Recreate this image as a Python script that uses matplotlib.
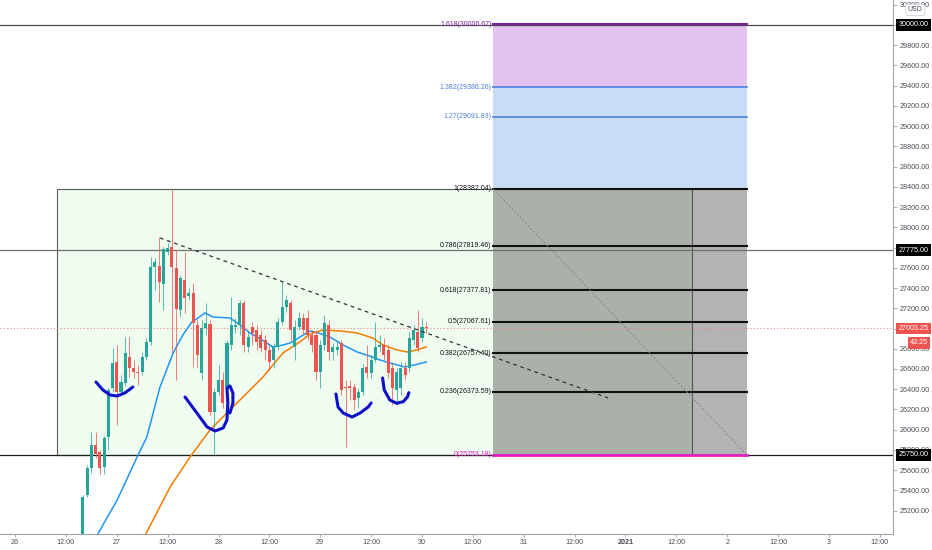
import matplotlib
matplotlib.use('Agg')
import matplotlib.pyplot as plt
import matplotlib.transforms as mtransforms
from matplotlib.patches import Rectangle
import numpy as np

plt.rcParams['font.family'] = ['Liberation Sans', 'DejaVu Sans']

# hourly candles, x = hours since Dec 26 00:00
hours = list(range(16, 98))
opens = [24910, 25355, 25621, 25849, 25780, 25631, 25928, 26412, 26669, 26373,
         26461, 26719, 26610, 26570, 26570, 26719, 26867, 27608, 27618, 27440,
         27756, 27806, 27598, 27183, 27480, 27322, 27351, 27035, 26560, 27005,
         27045, 26175, 26373, 26491, 26422, 26837, 27015, 27035, 27252, 26818,
         27015, 26985, 26936, 26887, 26788, 26689, 26818, 27065, 27213, 27252,
         26818, 27015, 27104, 27104, 26936, 26936, 26570, 26837, 27035, 26768,
         26788, 26857, 26422, 26432, 26422, 26313, 26373, 26620, 26560, 26689,
         26818, 26837, 26788, 26610, 26392, 26412, 26610, 26610, 26887, 26966,
         26906, 27015]
highs = [25355, 25651, 25977, 25977, 25799, 25938, 26412, 26808, 26837, 26541,
         26916, 26916, 26689, 26640, 26768, 26906, 27707, 27697, 27905, 27806,
         27845, 28382, 27776, 27529, 27756, 27401, 27450, 27084, 27084, 27252,
         27084, 26412, 26640, 26570, 26887, 27312, 27104, 27282, 27282, 26985,
         27065, 27035, 26985, 26936, 26837, 26857, 27104, 27460, 27331, 27282,
         27084, 27164, 27154, 27183, 26985, 26985, 26887, 27134, 27084, 26857,
         26887, 26887, 26491, 26491, 26461, 26412, 26649, 26837, 26738, 27065,
         26936, 26906, 26837, 26669, 26610, 26669, 26669, 26966, 27035, 27183,
         27104, 27065]
lows = [24860, 25335, 25572, 25720, 25562, 25562, 25799, 26373, 26046, 26343,
        26432, 26521, 26511, 26442, 26541, 26689, 26837, 27381, 27262, 27183,
        27727, 26758, 26491, 27114, 27154, 27282, 26620, 26610, 26491, 26936,
        26145, 25760, 26343, 26214, 26392, 26788, 26956, 26936, 26768, 26768,
        26837, 26788, 26768, 26689, 26590, 26610, 26788, 27035, 27164, 26887,
        26689, 26985, 26936, 26887, 26768, 26491, 26412, 26788, 26689, 26689,
        26738, 26343, 25829, 26294, 26195, 26214, 26343, 26511, 26511, 26669,
        26768, 26689, 26511, 26244, 26244, 26343, 26491, 26570, 26837, 26768,
        26867, 26956]
closes = [25335, 25621, 25849, 25760, 25621, 25918, 26392, 26659, 26373, 26471,
          26758, 26610, 26570, 26560, 26719, 26867, 27608, 27658, 27460, 27786,
          27796, 27608, 27193, 27499, 27302, 27351, 27055, 26738, 27005, 27055,
          26175, 26373, 26491, 26264, 26857, 27035, 27035, 27252, 26837, 26916,
          26956, 26867, 26808, 26788, 26669, 26818, 27065, 27213, 27282, 26985,
          27015, 27104, 26985, 26936, 26837, 26570, 26837, 27055, 26768, 26818,
          26818, 26392, 26412, 26412, 26294, 26373, 26610, 26560, 26689, 26818,
          26837, 26738, 26560, 26412, 26570, 26610, 26541, 26906, 26985, 26808,
          27015, 27003.25]

# moving averages
ma_fast_x = [19.0, 24.1, 28.8, 31.1, 34.2, 37.3, 39.6, 41.7, 43.2, 44.8, 46.7, 50.7,
             53.1, 55.4, 58.3, 60.8, 63.2, 64.9, 67.2, 69.6, 71.5, 74.3, 77.4, 80.7,
             83.7, 86.1, 88.4, 92.0, 94.3, 97.0]
ma_fast = [24930, 25305, 25730, 25928, 26422, 26758, 26936, 27065, 27104, 27154,
           27114, 27104, 27035, 26956, 26887, 26818, 26837, 26857, 26916, 26976,
           26956, 26916, 26837, 26768, 26728, 26689, 26659, 26620, 26640, 26669]
ma_slow_x = [30.0, 36.6, 41.3, 46.0, 50.7, 58.5, 63.2, 67.2, 69.6, 72.6, 76.7, 80.7,
             84.4, 86.8, 90.1, 92.5, 94.8, 97.0]
ma_slow = [24900, 25434, 25730, 25997, 26195, 26521, 26758, 26867, 26946, 26985,
           26976, 26956, 26906, 26837, 26788, 26768, 26788, 26818]

# fibonacci extension
fib_ratios = [0, 0.236, 0.382, 0.5, 0.618, 0.786, 1, 1.27, 1.382, 1.618]
fib_prices = [25753.18, 26373.59, 26757.40, 27067.61, 27377.81, 27819.46,
              28382.04, 29091.83, 29386.26, 30006.67]

# horizontal levels
levels = [30000, 27775, 25750]
last_price = 27003.25

# trend line
trend_x = [34.2, 139.9]
trend_y = [27895, 26314]

# hand drawn cups
cup1_x = [19.1, 20.75, 22.4, 24.05, 25.9, 27.8]
cup1_y = [26471, 26392, 26343, 26333, 26363, 26422]
cup2_x = [40.1, 42.9, 45.3, 47.2, 49.1, 50.0, 50.2, 50.0, 50.7, 51.4, 51.4, 50.7]
cup2_y = [26323, 26165, 26027, 25987, 26017, 26096, 26264, 26412, 26432, 26363, 26264, 26165]
cup3_x = [75.7, 76.2, 77.4, 79.5, 81.4, 83.3, 84.0]
cup3_y = [26353, 26224, 26165, 26125, 26165, 26224, 26264]
cup4_x = [86.7, 87.1, 88.4, 90.0, 91.6, 92.6, 92.9]
cup4_y = [26511, 26392, 26294, 26261, 26277, 26326, 26366]

xtick_hours = list(range(0, 205, 12))
xtick_labels = ['26', '12:00', '27', '12:00', '28', '12:00', '29', '12:00', '30',
                '12:00', '31', '12:00', '2021', '12:00', '2', '12:00', '3', '12:00']

fig = plt.figure(figsize=(9.32, 5.5), dpi=100)
ax = fig.add_axes([0, 16 / 550, 893 / 932, 534 / 550])
ax.set_xlim(-3.54, 207.1)
ax.set_ylim(24969, 30247)

# green range box
ax.add_patch(Rectangle((9.9, 25750), 159.7 - 9.9, fib_prices[6] - 25750,
                       facecolor='#effcef', edgecolor='#5a5a5a', lw=0.8, zorder=1))

# fib zones
fx0, fx1 = 112.75, 172.6
ax.fill_between([fx0, fx1], fib_prices[0], fib_prices[6], color='#4a4a4a', alpha=0.42, lw=0, zorder=2)
ax.fill_between([fx0, fx1], fib_prices[6], fib_prices[8], color='#c9dcf6', lw=0, zorder=2)
ax.fill_between([fx0, fx1], fib_prices[8], fib_prices[9], color='#e3c2ef', lw=0, zorder=2)

for lv, col in zip(levels, ['#4a4a4a', '#707070', '#1e1e1e']):
    ax.axhline(lv, color=col, lw=0.9, zorder=3)
ax.axhline(last_price, color='#f08a8a', ls=(0, (1, 2)), lw=0.8, zorder=3)

for r, p in zip(fib_ratios, fib_prices):
    if r == 0:
        col, lw = '#e41ec6', 2.0
    elif r in (1.27, 1.382):
        col, lw = '#4a80dc', 1.2
    elif r == 1.618:
        col, lw = '#7b22a4', 1.5
    else:
        col, lw = '#111111', 1.5
    ax.plot([fx0, fx1], [p, p], color=col, lw=lw, zorder=4)
    lab_col = '#111111' if col == '#111111' else col
    ax.text(fx0 - 0.35, p, f'{r:g}({p:.2f})', ha='right', va='center', fontsize=5,
            color=lab_col, zorder=8)

ax.plot([fx0, fx1], [fib_prices[6], fib_prices[0]], color='#8a8a8a', ls=(0, (2, 2)), lw=0.7, zorder=4)

# moving averages
ax.plot(ma_fast_x, ma_fast, color='#2196f3', lw=1.1, zorder=5)
ax.plot(ma_slow_x, ma_slow, color='#f57c00', lw=1.1, zorder=5)

# candles
o = np.array(opens, float)
c = np.array(closes, float)
up = c >= o
cols = np.where(up, '#26a69a', '#ef5350')
ax.vlines(hours, lows, highs, colors=cols, lw=0.7, alpha=0.75, zorder=6)
body = np.maximum(np.abs(c - o), 10)
ax.bar(hours, body, bottom=np.minimum(o, c), width=0.72, color=cols, lw=0, zorder=7)

# trend line
ax.plot(trend_x, trend_y, color='#333333', ls=(0, (3, 3)), lw=0.9, zorder=8)

# cups
for cx, cy in [(cup1_x, cup1_y), (cup2_x, cup2_y), (cup3_x, cup3_y), (cup4_x, cup4_y)]:
    ax.plot(cx, cy, color='#1010c8', lw=2.2, solid_capstyle='round',
            solid_joinstyle='round', zorder=9)

# axes styling
for s in ['top', 'left']:
    ax.spines[s].set_visible(False)
for s in ['right', 'bottom']:
    ax.spines[s].set_color('#a0a3ab')
    ax.spines[s].set_linewidth(0.8)
ax.yaxis.tick_right()
ax.set_yticks(np.arange(25200, 30201, 200))
ax.set_yticklabels([f'{v:.2f}' for v in np.arange(25200, 30201, 200)])
ax.tick_params(axis='y', labelsize=5.2, labelcolor='#4a4d57', color='#a0a3ab',
               length=3, width=0.6, pad=2)
ax.set_xticks(xtick_hours)
ax.set_xticklabels(xtick_labels)
ax.tick_params(axis='x', labelsize=5.2, labelcolor='#4a4d57', color='#a0a3ab',
               length=2, width=0.6, pad=1.5)
ax.get_xticklabels()[12].set_fontweight('bold')

# price tags on axis
trans = mtransforms.blended_transform_factory(ax.transAxes, ax.transData)
tags = [(30000, '30000.00', 'black'), (27775, '27775.00', 'black'),
        (25750, '25750.00', 'black'), (last_price, '27003.25', '#ef5350')]
for p, txt, fc in tags:
    ax.text(1.006, p, txt, transform=trans, ha='left', va='center', fontsize=5.2,
            color='white', zorder=10, clip_on=False,
            bbox=dict(boxstyle='square,pad=0.3', fc=fc, ec='none'))
ax.text(1.019, 26857, '43:25', transform=trans, ha='left', va='center', fontsize=5.2,
        color='white', zorder=10, clip_on=False,
        bbox=dict(boxstyle='square,pad=0.3', fc='#ef5350', ec='none'))

fig.text(0.982, 0.982, 'USD', ha='center', va='center', fontsize=5, color='#4a4d57',
         bbox=dict(boxstyle='round,pad=0.3', fc='white', ec='#d0d3db', lw=0.6))

fig.savefig('out.png', dpi=100)
